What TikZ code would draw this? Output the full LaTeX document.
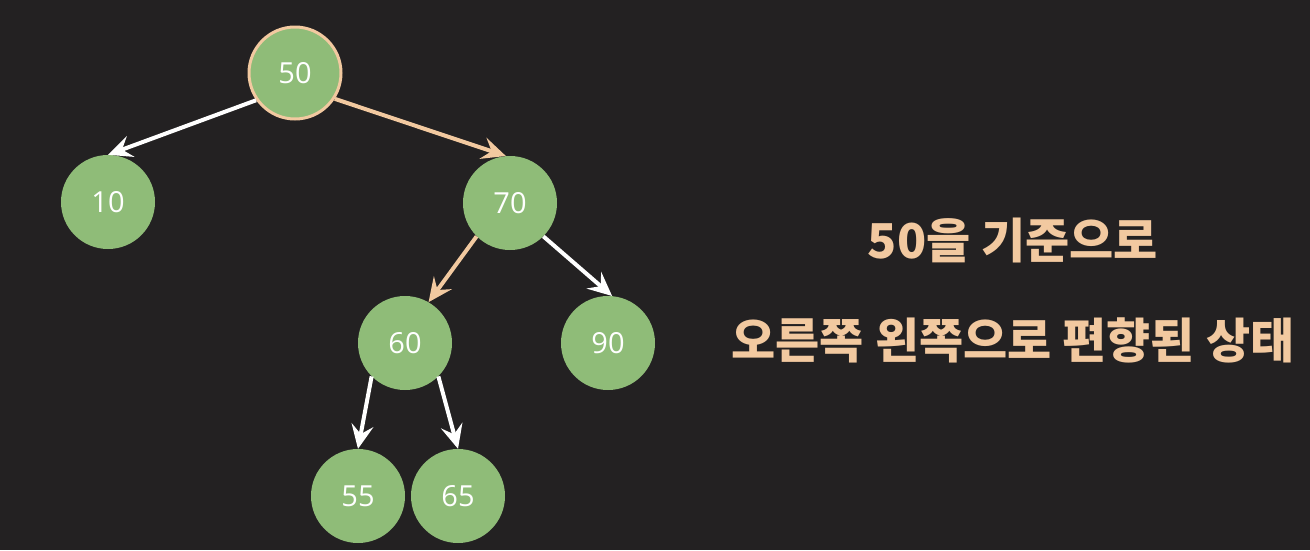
\documentclass[tikz,border=0pt]{standalone}
\usepackage{fontspec}
\setmainfont{Open Sans}
\newfontfamily\kr{Noto Sans CJK KR}
\usetikzlibrary{arrows.meta}
\definecolor{bg}{HTML}{232122}
\definecolor{leaf}{HTML}{8FBC78}
\definecolor{peach}{HTML}{F2C9A0}
\begin{document}
\begin{tikzpicture}[x=1pt,y=-1pt,
  tn/.style={circle,fill=leaf,minimum size=94pt,inner sep=0pt,text=white,font=\fontsize{29}{32}\selectfont},
  hl/.style={draw=peach,line width=3pt},
  wa/.style={draw=white,line width=4pt,-{Stealth[length=24pt,width=22pt,inset=9pt]}},
  pa/.style={draw=peach,line width=4pt,-{Stealth[length=24pt,width=22pt,inset=9pt]}},
  lbl/.style={text=peach,font=\kr\bfseries\fontsize{48}{52}\selectfont}]
\fill[bg] (0,0) rectangle (1310,550);
\useasboundingbox (0,0) rectangle (1310,550);
\node[tn,hl,minimum size=92pt] (n50) at (295,73) {50};
\node[tn] (n10) at (108,202) {10};
\node[tn] (n70) at (510,203) {70};
\node[tn] (n60) at (405,343) {60};
\node[tn] (n90) at (608,343) {90};
\node[tn] (n55) at (358,496) {55};
\node[tn] (n65) at (458,496) {65};
\draw[wa] (n50.215) -- (n10.north);
\draw[pa] (n50.-33) -- (n70.95);
\draw[pa] (n70.225) -- (n60.60);
\draw[wa] (n70.-45) -- (n90.85);
\draw[wa] (n60.-135) -- (n55.90);
\draw[wa] (n60.-45) -- (n65.90);
\node[lbl] (t1) at (1013,240) {50을 기준으로};
\node[lbl] (t2) at (1013,340) {오른쪽 왼쪽으로 편향된 상태};
\end{tikzpicture}
\end{document}
